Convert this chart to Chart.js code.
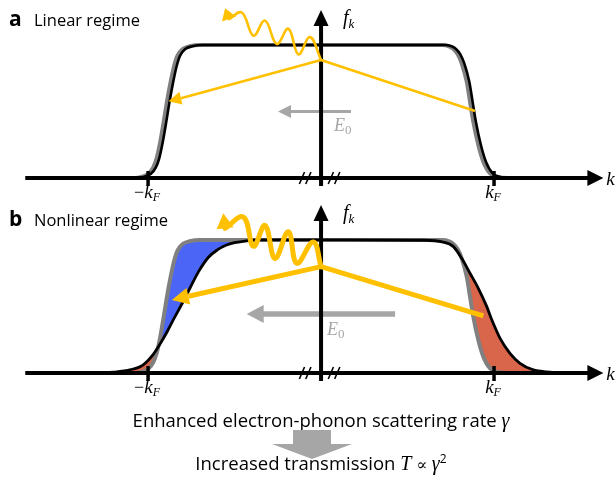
<!DOCTYPE html>
<html><head><meta charset="utf-8">
<script src="https://cdn.jsdelivr.net/npm/chart.js@4.4.1/dist/chart.umd.min.js"></script>
<style>
html,body{margin:0;padding:0;background:#fff;}
#wrap{position:relative;width:616px;height:483px;overflow:hidden;background:#fff;}
canvas{position:absolute;left:0;}
#ca{top:0;} #cb{top:195px;}
.t{position:absolute;white-space:nowrap;font-family:"Open Sans",sans-serif;color:#000;}
.m{font-family:"Liberation Serif",serif;font-style:italic;font-size:20px;}
.ctr{left:0;width:642px;text-align:center;}
#down{position:absolute;left:0;top:0;width:616px;height:483px;background:#a6a6a6;
 clip-path:polygon(293px 430px,331px 430px,331px 444px,352px 444px,312px 459px,272px 444px,293px 444px);}
</style></head>
<body><div id="wrap">
<canvas id="ca" width="616" height="215"></canvas>
<canvas id="cb" width="616" height="215"></canvas>
<div class="t" style="left:9px;top:8px;font-size:21px;line-height:21px;font-weight:700">a</div>
<div class="t" style="left:34px;top:10px;font-size:16.5px;line-height:20px">Linear regime</div>
<div class="t" style="left:9px;top:208px;font-size:21px;line-height:21px;font-weight:700">b</div>
<div class="t" style="left:34px;top:210px;font-size:16.5px;line-height:20px">Nonlinear regime</div>
<div class="t ctr" style="top:408.5px;font-size:18.5px;line-height:22px">Enhanced electron-phonon scattering rate <span class="m">γ</span></div>
<div id="down"></div>
<div class="t ctr" style="top:451.8px;font-size:18.5px;line-height:22px">Increased transmission <span class="m">T</span> <span style="font-family:'DejaVu Serif',serif;font-size:16px">∝</span> <span class="m">γ</span><span style="font-size:12px;line-height:0;vertical-align:0.6em">2</span></div>
</div>
<script>
// ---- data (k in units of k_F, f = occupation) ----
// equilibrium Fermi distribution (gray), both panels
const kEq = [-1.55,-1.10,-1.05,-1.00,-0.97,-0.95,-0.93,-0.91,-0.89,-0.87,-0.85,-0.83,-0.80,-0.76,-0.70,0,0.70,0.74,0.765,0.79,0.813,0.842,0.861,0.88,0.909,0.938,0.977,1.02,1.08,1.55];
const fEq = [0,0,0.005,0.03,0.08,0.15,0.27,0.42,0.58,0.72,0.84,0.92,0.97,0.99,1,1,1,0.99,0.97,0.93,0.862,0.724,0.574,0.423,0.248,0.123,0.035,0.008,0,0];
// panel a: slightly displaced distribution (black)
const kA = [-1.55,-1.085,-1.035,-0.985,-0.955,-0.935,-0.915,-0.895,-0.875,-0.855,-0.835,-0.815,-0.785,-0.745,-0.685,0,0.715,0.755,0.78,0.805,0.828,0.857,0.876,0.895,0.924,0.953,0.992,1.035,1.095,1.55];
const fA = [0,0,0.005,0.03,0.08,0.15,0.27,0.42,0.58,0.72,0.84,0.92,0.97,0.99,1,1,1,0.99,0.97,0.93,0.862,0.724,0.574,0.423,0.248,0.123,0.035,0.008,0,0];
// panel b: strongly displaced / broadened distribution (black)
const kB = [-1.55,-1.30,-1.20,-1.10,-1.03,-0.97,-0.93,-0.89,-0.85,-0.80,-0.757,-0.709,-0.651,-0.60,-0.55,-0.50,-0.45,-0.35,0,0.60,0.70,0.765,0.813,0.861,0.909,0.958,0.987,1.035,1.092,1.15,1.227,1.305,1.40,1.55];
const fB = [0,0,0.006,0.025,0.06,0.14,0.22,0.31,0.41,0.53,0.64,0.76,0.87,0.925,0.96,0.98,0.99,1,1,0.998,0.985,0.95,0.862,0.75,0.637,0.499,0.40,0.26,0.148,0.073,0.023,0.008,0.002,0];
// scattering paths (yellow): arrow base, vertex, end
const scatA = [{x:-0.81,y:0.60},{x:0,y:0.887},{x:0.89,y:0.504}];
const scatTipA = {x:-0.882,y:0.577};
const scatB = [{x:-0.767,y:0.577},{x:0,y:0.80},{x:0.938,y:0.43}];
const scatTipB = {x:-0.863,y:0.549};
// emitted phonon (wavy), from arrow base to vertex
const waveA = [{x:-0.532,y:1.195},{x:-0.458,y:1.244},{x:-0.391,y:1.070},{x:-0.324,y:1.183},{x:-0.256,y:1.008},{x:-0.189,y:1.122},{x:-0.131,y:0.929},{x:-0.064,y:1.059},{x:0,y:0.887}];
const waveTipA = {x:-0.555,y:1.276};
const waveB = [{x:-0.555,y:1.088},{x:-0.449,y:1.172},{x:-0.391,y:0.953},{x:-0.324,y:1.109},{x:-0.266,y:0.861},{x:-0.189,y:1.062},{x:-0.14,y:0.825},{x:-0.045,y:0.985},{x:0,y:0.80}];
const waveTipB = {x:-0.565,y:1.20};
// field arrow E0
const fieldA = {from:0.173,to:-0.249,f:0.5};
const fieldB = {from:0.428,to:-0.43,f:0.444};
// axis
const tickK = [-1, 1];
const tickText = ['−', ''];
const breakK = [-0.092, 0.075];

// ---- styles ----
const RED='#d9654b', BLUE='#4b66f7', YEL='#ffc000', FIELD='#a6a6a6', GRAY='#808080';
const X_MIN=-1.856, X_MAX=1.705, Y_MIN=-0.278, Y_MAX=1.338;
const K_AXIS_START=-1.71, K_AXIS_TIP=1.632, F_AXIS_START=-0.06, F_AXIS_TIP=1.263;
const SERIF='"Liberation Serif", serif';

function tri(ctx,tip,base,hw,color){
  const dx=tip[0]-base[0], dy=tip[1]-base[1], L=Math.hypot(dx,dy);
  const nx=-dy/L, ny=dx/L;
  ctx.beginPath(); ctx.moveTo(tip[0],tip[1]);
  ctx.lineTo(base[0]+nx*hw,base[1]+ny*hw); ctx.lineTo(base[0]-nx*hw,base[1]-ny*hw);
  ctx.closePath(); ctx.fillStyle=color; ctx.fill();
}
function drawParts(ctx,parts,x,y,align,color){
  let w=0; for(const p of parts){ctx.font=p[1]; w+=ctx.measureText(p[0]).width;}
  let cx = align==='center'? x-w/2 : x;
  ctx.fillStyle=color; ctx.textBaseline='alphabetic'; ctx.textAlign='left';
  for(const p of parts){ctx.font=p[1]; ctx.fillText(p[0],cx,y+(p[2]||0)); cx+=ctx.measureText(p[0]).width;}
}

function decor(P){
  return {
    id:'decor',
    afterDatasetDraw(chart,args){
      if(args.index!==0) return;
      const ctx=chart.ctx, X=chart.scales.x, Y=chart.scales.y;
      const x0=X.getPixelForValue(0), y0=Y.getPixelForValue(0);
      ctx.save();
      const fy=Y.getPixelForValue(P.field.f), ft=X.getPixelForValue(P.field.to), fb=X.getPixelForValue(P.field.from);
      ctx.strokeStyle=FIELD; ctx.lineWidth=P.lw.field;
      ctx.beginPath(); ctx.moveTo(fb,fy); ctx.lineTo(ft+P.fhead[0]-1,fy); ctx.stroke();
      tri(ctx,[ft,fy],[ft+P.fhead[0],fy],P.fhead[1],FIELD);
      const xl=X.getPixelForValue(K_AXIS_START), xr=X.getPixelForValue(K_AXIS_TIP);
      ctx.strokeStyle='#000'; ctx.lineWidth=4;
      ctx.beginPath(); ctx.moveTo(xl,y0); ctx.lineTo(xr-13,y0); ctx.stroke();
      tri(ctx,[xr,y0],[xr-16,y0],8,'#000');
      const yb=Y.getPixelForValue(F_AXIS_START), yt=Y.getPixelForValue(F_AXIS_TIP);
      ctx.beginPath(); ctx.moveTo(x0,yb); ctx.lineTo(x0,yt+13); ctx.stroke();
      tri(ctx,[x0,yt],[x0,yt+16],7.5,'#000');
      ctx.lineWidth=1.6;
      for(const kb of breakK){
        const bx=X.getPixelForValue(kb);
        for(const o of [-3.2,3.2]){ctx.beginPath();ctx.moveTo(bx+o-2.6,y0+6);ctx.lineTo(bx+o+2.6,y0-6);ctx.stroke();}
      }
      ctx.lineWidth=3.5;
      for(const kt of tickK){const tx=X.getPixelForValue(kt);ctx.beginPath();ctx.moveTo(tx,y0-7);ctx.lineTo(tx,y0+8);ctx.stroke();}
      ctx.restore();
    },
    afterDatasetsDraw(chart){
      const ctx=chart.ctx, X=chart.scales.x, Y=chart.scales.y;
      const x0=X.getPixelForValue(0), y0=Y.getPixelForValue(0);
      const p=(o)=>[X.getPixelForValue(o.x),Y.getPixelForValue(o.y)];
      ctx.save();
      tri(ctx,p(P.scatTip),p(P.scat[0]),P.shw,YEL);
      tri(ctx,p(P.waveTip),p(P.wave[0]),P.whw,YEL);
      tickK.forEach((kt,i)=>{
        const parts=[];
        if(tickText[i]) parts.push([tickText[i],'18px '+SERIF]);
        parts.push(['k','italic 19px '+SERIF]); parts.push(['F','italic 12px '+SERIF,3]);
        drawParts(ctx,parts,X.getPixelForValue(kt)-1,y0+20,'center','#000');
      });
      drawParts(ctx,[['k','italic 19px '+SERIF]],X.getPixelForValue(K_AXIS_TIP)+3,y0+7,'left','#000');
      const yt=Y.getPixelForValue(F_AXIS_TIP);
      drawParts(ctx,[['f','italic 20px '+SERIF],['k','italic 13px '+SERIF,4]],x0+22,yt+14,'left','#000');
      const fy=Y.getPixelForValue(P.field.f);
      drawParts(ctx,[['E','italic 18px '+SERIF],['0','13px '+SERIF,3]],x0+P.e0dx,fy+P.e0dy,'left',FIELD);
      ctx.restore();
    }
  };
}

function makeChart(id,P){
  return new Chart(document.getElementById(id),{
    type:'line',
    data:{datasets:[
      {label:'displaced distribution',data:P.kBlack.map((k,i)=>({x:k,y:P.fBlack[i]})),borderColor:'#000',borderWidth:P.lw.black,
       fill:{target:1,above:RED,below:BLUE},cubicInterpolationMode:'monotone',order:1},
      {label:'equilibrium',data:kEq.map((k,i)=>({x:k,y:fEq[i]})),borderColor:GRAY,borderWidth:P.lw.gray,fill:false,cubicInterpolationMode:'monotone',order:2},
      {label:'scattering',data:P.scat,borderColor:YEL,borderWidth:P.lw.yellow,tension:0,fill:false,order:0,borderJoinStyle:'round'},
      {label:'phonon',data:P.wave,borderColor:YEL,borderWidth:P.lw.yellow,tension:0.4,fill:false,order:0,borderCapStyle:'round'}
    ]},
    options:{responsive:false,animation:false,devicePixelRatio:1,events:[],
      layout:{padding:0},
      elements:{point:{radius:0}},
      scales:{x:{type:'linear',min:X_MIN,max:X_MAX,display:false},y:{type:'linear',min:Y_MIN,max:Y_MAX,display:false}},
      plugins:{legend:{display:false},tooltip:{enabled:false},filler:{drawTime:'beforeDatasetsDraw'}}
    },
    plugins:[decor(P)]
  });
}

makeChart('ca',{kBlack:kA,fBlack:fA,scat:scatA,scatTip:scatTipA,wave:waveA,waveTip:waveTipA,field:fieldA,
  lw:{gray:4,black:2.6,yellow:2.6,field:3},fhead:[13,6.5],shw:6.5,whw:7.5,e0dx:13,e0dy:20});
makeChart('cb',{kBlack:kB,fBlack:fB,scat:scatB,scatTip:scatTipB,wave:waveB,waveTip:waveTipB,field:fieldB,
  lw:{gray:4,black:2.8,yellow:5,field:5.5},fhead:[17,9],shw:8.5,whw:8.5,e0dx:6,e0dy:21});
</script>
</body></html>
